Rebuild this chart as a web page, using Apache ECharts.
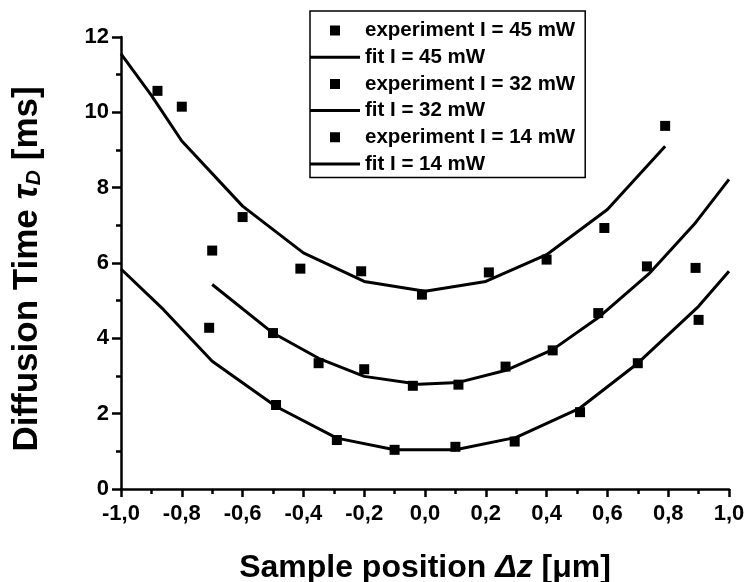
<!DOCTYPE html>
<html>
<head>
<meta charset="utf-8">
<script src="https://cdn.jsdelivr.net/npm/echarts@6/dist/echarts.min.js"></script>
<style>html,body{margin:0;padding:0;background:#fff}#c{width:748px;height:582px}</style>
</head>
<body>
<div id="c"></div>
<script>
// ---- data ----
var exp45X = [-0.88, -0.80, -0.70, -0.60, -0.41, -0.21, -0.01, 0.21, 0.40, 0.59, 0.79];
var exp45Y = [10.57, 10.15, 6.33, 7.22, 5.85, 5.78, 5.16, 5.75, 6.09, 6.93, 9.64];
var fit45X = [-1.0, -0.9, -0.8, -0.6, -0.4, -0.2, 0.0, 0.2, 0.4, 0.6, 0.79];
var fit45Y = [11.55, 10.45, 9.24, 7.51, 6.27, 5.51, 5.25, 5.51, 6.22, 7.42, 9.10];

var exp32X = [-0.71, -0.50, -0.35, -0.20, -0.04, 0.11, 0.265, 0.42, 0.57, 0.73, 0.89];
var exp32Y = [4.28, 4.14, 3.34, 3.18, 2.74, 2.77, 3.25, 3.68, 4.67, 5.91, 5.87];
var fit32X = [-0.70, -0.50, -0.35, -0.20, -0.02, 0.11, 0.27, 0.42, 0.575, 0.74, 0.89, 1.0];
var fit32Y = [5.43, 4.14, 3.47, 2.99, 2.78, 2.83, 3.16, 3.70, 4.58, 5.74, 7.07, 8.22];

var exp14X = [-0.49, -0.29, -0.10, 0.10, 0.295, 0.51, 0.70, 0.90];
var exp14Y = [2.23, 1.30, 1.04, 1.12, 1.26, 2.04, 3.34, 4.49];
var fit14X = [-1.0, -0.86, -0.70, -0.49, -0.29, -0.10, 0.10, 0.30, 0.51, 0.70, 0.90, 1.0];
var fit14Y = [5.84, 4.76, 3.39, 2.19, 1.35, 1.04, 1.04, 1.37, 2.15, 3.34, 4.85, 5.78];

var seriesNames = ['experiment I = 45 mW', 'fit I = 45 mW',
                   'experiment I = 32 mW', 'fit I = 32 mW',
                   'experiment I = 14 mW', 'fit I = 14 mW'];

var xMin = -1.0, xMax = 1.0, xStep = 0.2;
var yMin = 0, yMax = 12, yStep = 2;

function zip(xs, ys) { return xs.map(function (x, i) { return [x, ys[i]]; }); }

var FONT = '"Liberation Sans", Arial, Helvetica, sans-serif';

function expSeries(name, xs, ys) {
  return { name: name, type: 'scatter', data: zip(xs, ys), symbol: 'rect', symbolSize: 10,
           itemStyle: { color: '#000', opacity: 1 }, z: 3 };
}
function fitSeries(name, xs, ys) {
  return { name: name, type: 'line', data: zip(xs, ys), symbol: 'none', smooth: false,
           lineStyle: { color: '#000', width: 3 }, itemStyle: { color: '#000' }, z: 2 };
}

var chart = echarts.init(document.getElementById('c'), null, { renderer: 'canvas' });
// icons: a 10x10 square centred in a 50x10 box (tiny corner subpaths fix the bounds), and a 50x3 bar
var squareIcon = 'path://M0,0 L0.01,0 L0,0.01 Z M20,0 L30,0 L30,10 L20,10 Z M50,10 L49.99,10 L50,9.99 Z';
var lineIcon = 'path://M0,0 L50,0 L50,3 L0,3 Z';
chart.setOption({
  animation: false,
  backgroundColor: '#fff',
  textStyle: { fontFamily: FONT },
  grid: { left: 121, right: 19, top: 37, bottom: 93, containLabel: false, outerBoundsMode: 'none' },
  legend: {
    orient: 'vertical', left: 310, top: 11,
    backgroundColor: '#fff',
    borderColor: '#000', borderWidth: 1.5, borderRadius: 0,
    padding: [9, 10, 3, 0],
    itemWidth: 50, itemHeight: 10, itemGap: 5.7, itemTextGap: 11,
    textStyle: { fontFamily: FONT, fontWeight: 'bold', fontSize: 20.5, color: '#000', lineHeight: 20 },
    data: [
      { name: seriesNames[0], icon: squareIcon },
      { name: seriesNames[1], icon: lineIcon },
      { name: seriesNames[2], icon: squareIcon },
      { name: seriesNames[3], icon: lineIcon },
      { name: seriesNames[4], icon: squareIcon },
      { name: seriesNames[5], icon: lineIcon }
    ]
  },
  xAxis: {
    type: 'value', min: xMin, max: xMax, interval: xStep,
    name: 'Sample position {i|Δz} [μm]', nameLocation: 'middle', nameGap: 63,
    nameTextStyle: { fontFamily: FONT, fontWeight: 'bold', fontSize: 32, color: '#000',
      rich: { i: { fontFamily: FONT, fontWeight: 'bold', fontStyle: 'italic', fontSize: 32, color: '#000' } } },
    axisLine: { show: true, onZero: false, lineStyle: { color: '#000', width: 2.5 } },
    axisTick: { show: true, inside: false, length: 8, lineStyle: { color: '#000', width: 2.5 } },
    minorTick: { show: true, splitNumber: 2, length: 5, lineStyle: { color: '#000', width: 2.5 } },
    splitLine: { show: false },
    axisLabel: { color: '#000', fontFamily: FONT, fontWeight: 'bold', fontSize: 22, margin: 14,
      formatter: function (v) { return v.toFixed(1).replace('.', ','); } }
  },
  yAxis: {
    type: 'value', min: yMin, max: yMax, interval: yStep,
    name: 'Diffusion Time {t|τ}{s|D} [ms]', nameLocation: 'middle', nameGap: 76, nameRotate: 90,
    nameTextStyle: { fontFamily: FONT, fontWeight: 'bold', fontSize: 35, color: '#000', padding: [0, 12, 0, 0],
      rich: {
        t: { fontFamily: FONT, fontWeight: 'bold', fontStyle: 'italic', fontSize: 35, color: '#000' },
        s: { fontFamily: FONT, fontWeight: 'bold', fontStyle: 'italic', fontSize: 21, color: '#000', padding: [15, 0, 0, 0] }
      } },
    axisLine: { show: true, onZero: false, lineStyle: { color: '#000', width: 2.5 } },
    axisTick: { show: true, inside: false, length: 9, lineStyle: { color: '#000', width: 2.5 } },
    minorTick: { show: true, splitNumber: 2, length: 5, lineStyle: { color: '#000', width: 2.5 } },
    splitLine: { show: false },
    axisLabel: { color: '#000', fontFamily: FONT, fontWeight: 'bold', fontSize: 22, margin: 12 }
  },
  series: [
    expSeries(seriesNames[0], exp45X, exp45Y),
    fitSeries(seriesNames[1], fit45X, fit45Y),
    expSeries(seriesNames[2], exp32X, exp32Y),
    fitSeries(seriesNames[3], fit32X, fit32Y),
    expSeries(seriesNames[4], exp14X, exp14Y),
    fitSeries(seriesNames[5], fit14X, fit14Y)
  ]
});
</script>
</body>
</html>
